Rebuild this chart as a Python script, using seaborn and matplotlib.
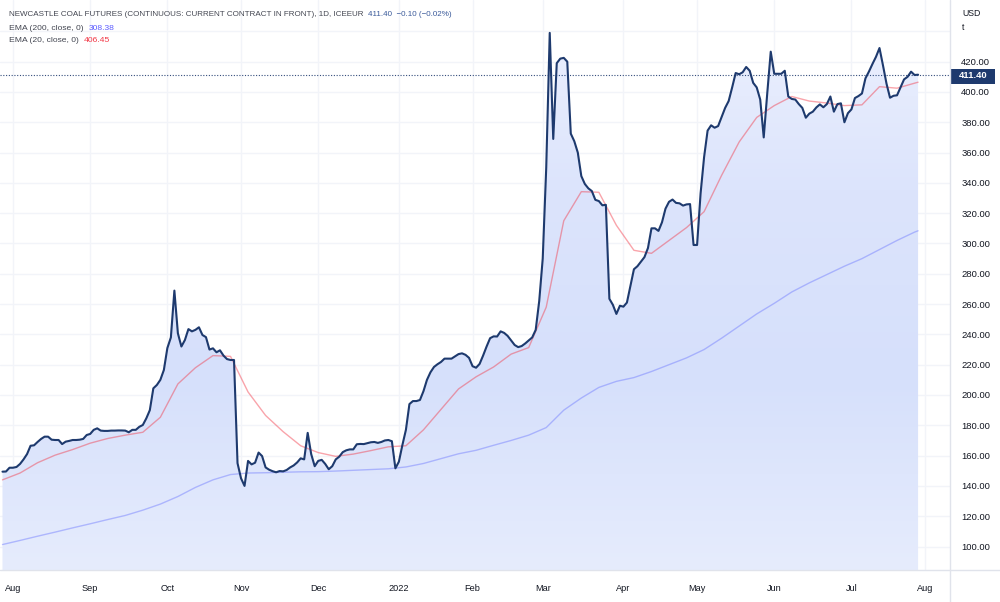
import numpy as np
import pandas as pd
import matplotlib
matplotlib.use('Agg')
import matplotlib.pyplot as plt
import seaborn as sns
from matplotlib.colors import LinearSegmentedColormap

# daily close, one value per trading day from 28 Jul 2021 to 28 Jul 2022
close = [
    149.4, 149.5, 152, 152, 152.5, 154.5, 157.5, 161, 166.5, 166.8,
    169, 171, 172.5, 172.5, 170.5, 170.3, 170.3, 167.6, 169.2, 169.7,
    170.3, 170.3, 170.5, 171, 173.6, 174.3, 177, 178, 176.5, 176.3,
    176.3, 176.5, 176.5, 176.6, 176.6, 176.5, 175.4, 177, 177, 179,
    180.2, 184.6, 190, 204.4, 206.6, 210, 216.5, 231, 238, 268.9,
    240.7, 232, 236.3, 243.5, 242, 243, 244.7, 239.6, 238.2, 230,
    230.8, 228.2, 229.5, 226, 223.7, 223.1, 223.1, 155, 145, 140,
    156.5, 154.2, 155.3, 162, 159.7, 152.2, 150.7, 149.7, 149, 149.8,
    149.6, 150.5, 152.2, 153.5, 155.5, 158.2, 157.5, 175, 161, 153,
    156.5, 157.2, 154.5, 151, 153, 157.5, 159.3, 162.3, 163.5, 164.1,
    164.1, 167.5, 167.7, 167.6, 168.2, 168.8, 169, 168.4, 169, 170,
    170.3, 169.5, 151.6, 156, 167, 177, 194, 196, 196, 196.7,
    202.5, 210, 215, 218.5, 220.3, 221.8, 224, 224, 224, 225.5,
    227, 227.5, 226.5, 224.5, 219, 218, 220.5, 226, 232, 237.5,
    238.7, 238.6, 242, 241, 239, 236, 233, 231.6, 232.3, 234,
    236, 238, 243, 262, 290, 350, 439, 369, 419, 422,
    422.5, 420, 372.5, 367.5, 360, 344.5, 339.3, 336.4, 334.6, 328.8,
    328, 325.2, 325.5, 263.5, 259.5, 253.5, 258.9, 258.3, 261, 272,
    283, 285, 288, 291, 297, 310, 310, 308.3, 314, 323,
    327.5, 329, 326.8, 326.5, 325, 325.8, 326, 299, 299, 333,
    357, 374.5, 378, 376.4, 377.5, 383.5, 389.5, 394, 403, 412.5,
    411.7, 413, 416.5, 414, 406, 403, 395, 370, 399, 426.6,
    412, 412, 412, 414, 397, 395.4, 395, 392, 389.5, 383,
    385.7, 387, 389.8, 391.8, 389.9, 392, 397, 387, 392, 392.5,
    380, 386, 388.5, 396, 397.3, 399, 409, 413.5, 418.5, 423.2,
    429, 417.5, 405.5, 396.2, 397.5, 397.8, 403, 408.3, 410, 413.4,
    411.2, 411.4,
]

# EMA values read every 5th trading day (plus the last one)
ema200 = [
    101.3, 104, 106.8, 109.5, 112.3, 115, 117.8, 120.5, 124, 128,
    133, 139, 144, 147.5, 148.5, 148.7, 149, 149.3, 149.4, 149.8,
    150.3, 150.8, 151.3, 152.5, 154.8, 158, 161.2, 163.5, 166.8, 170,
    173.5, 178.5, 190, 198, 205, 209, 211.5, 215.5, 220, 224.5,
    230, 237.5, 245.5, 253.5, 260.5, 268, 274, 279.5, 285, 290,
    296, 302, 307.5, 308.38,
]
ema20 = [
    144, 148.5, 155.3, 160.3, 164, 168.2, 171.3, 173.5, 175.4, 185.3,
    207.3, 218, 226, 225.5, 202, 186.5, 175.8, 166.5, 162, 159.5,
    161, 163.3, 165.8, 166.5, 177, 190.5, 204, 212, 218.5, 227,
    231.3, 258, 315, 334.2, 333.8, 312, 295.5, 293.5, 302, 310.5,
    321, 345, 367, 383.2, 391, 397, 394, 392.7, 391, 391.5,
    403.5, 402.5, 405.8, 406.45,
]

month_labels = ['Aug', 'Sep', 'Oct', 'Nov', 'Dec', '2022', 'Feb', 'Mar', 'Apr', 'May', 'Jun', 'Jul', 'Aug']
price_ticks = [100, 120, 140, 160, 180, 200, 220, 240, 260, 280, 300, 320, 340, 360, 380, 400, 420, 440]
last_price = 411.40
title = 'NEWCASTLE COAL FUTURES (CONTINUOUS: CURRENT CONTRACT IN FRONT), 1D, ICEEUR'

sns.set_theme(style='white')
plt.rcParams['font.family'] = ['Liberation Sans', 'DejaVu Sans']

dates = pd.bdate_range('2021-07-28', periods=len(close))
df = pd.DataFrame({'bar': np.arange(len(close)), 'close': close, 'date': dates})
ema_bars = list(range(0, len(close) - 1, 5)) + [len(close) - 1]
ema_df = pd.DataFrame({'bar': ema_bars, 'ema200': ema200, 'ema20': ema20})

# first trading day of each month -> x position of the month ticks
all_days = pd.bdate_range('2021-07-28', '2022-08-05')
s = pd.Series(np.arange(len(all_days)), index=all_days)
month_pos = s.groupby(s.index.to_period('M')).first().iloc[1:].values

W, H = 1000, 602
fig = plt.figure(figsize=(10, 6.02), dpi=100)
ax = fig.add_axes([0, 32 / H, 950 / W, 570 / H])
x_lo, x_hi = -0.71, 270.1
y_lo, y_hi = 84.5, 460.7

# gradient area under the close
area = ax.fill_between(df['bar'], df['close'], y_lo, color='none', lw=0)
cmap = LinearSegmentedColormap.from_list('area', ['#e6ecfd', '#d6e0fb', '#dce4fc', '#eef2fe'])
grad = np.linspace(0, 1, 256).reshape(-1, 1)
img = ax.imshow(grad, extent=[x_lo, x_hi, y_lo, y_hi], origin='lower', aspect='auto', cmap=cmap, zorder=1)
img.set_clip_path(area.get_paths()[0], transform=ax.transData)

sns.lineplot(data=ema_df, x='bar', y='ema200', color='#6d78ff', alpha=0.45, lw=1, ax=ax, zorder=3)
sns.lineplot(data=ema_df, x='bar', y='ema20', color='#f23645', alpha=0.45, lw=1, ax=ax, zorder=3)
sns.lineplot(data=df, x='bar', y='close', color='#1e3a6e', lw=1.5, ax=ax, zorder=4, estimator=None)
ax.axhline(last_price, color='#1e3a6e', ls=(0, (1, 1.5)), lw=0.8, alpha=0.9, zorder=5)

ax.set_xlim(x_lo, x_hi)
ax.set_ylim(y_lo, y_hi)
ax.set_xticks(month_pos)
ax.set_xticklabels(month_labels)
ax.set_yticks(price_ticks)
ax.set_yticklabels(['{:.2f}'.format(p) if p < 440 else '' for p in price_ticks])
ax.yaxis.tick_right()
ax.grid(True, color='#f2f4f9', lw=1)
ax.tick_params(axis='y', length=0, pad=8, labelsize=6.8, labelcolor='#131722')
ax.tick_params(axis='x', length=0, pad=10, labelsize=6.6, labelcolor='#131722')
ax.set_xlabel('')
ax.set_ylabel('')
for sp in ax.spines.values():
    sp.set_visible(False)

# panel separators
fig.add_artist(plt.Line2D([950 / W, 950 / W], [0, 1], color='#e0e3eb', lw=1))
fig.add_artist(plt.Line2D([0, 1], [32 / H, 32 / H], color='#e0e3eb', lw=1))

# last price label on the scale
fig.add_artist(plt.Rectangle((951 / W, 1 - 83.5 / H), 44 / W, 15 / H, color='#1e3a6e', lw=0))
fig.text(973 / W, 1 - 76 / H, '{:.2f}'.format(last_price), color='white', fontsize=6.8, weight='bold',
         va='center', ha='center')
fig.text(962 / W, 1 - 14 / H, 'USD', color='#131722', fontsize=6.3, va='center')
fig.text(962 / W, 1 - 28 / H, 't', color='#131722', fontsize=6.3, va='center')

# legend lines at the top left
fig.canvas.draw()
r = fig.canvas.get_renderer()
def pair(y, label, value, vcolor, size):
    t = fig.text(9 / W, 1 - y / H, label, color='#434651', fontsize=size, va='center')
    bb = t.get_window_extent(r)
    fig.text((bb.x1 + 5) / W, 1 - y / H, value, color=vcolor, fontsize=size, va='center')

pair(15, title, '411.40  \u22120.10 (\u22120.02%)', '#3a5a9a', 5.8)
pair(28, 'EMA (200, close, 0)', '308.38', '#5b5bff', 6.1)
pair(41, 'EMA (20, close, 0)', '406.45', '#f23645', 6.1)

fig.savefig('out.png', dpi=100)
